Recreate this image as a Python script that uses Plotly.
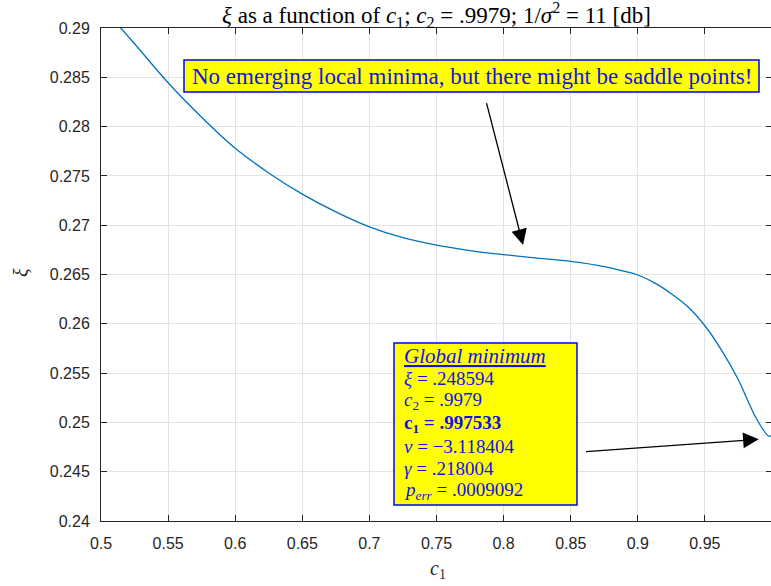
import plotly.graph_objects as go

# ---- data ----
c1_values = [0.5, 0.525, 0.55, 0.575, 0.6, 0.625, 0.65, 0.675, 0.7, 0.725, 0.75,
             0.775, 0.8, 0.825, 0.85, 0.875, 0.8875, 0.9, 0.9125, 0.925, 0.9375,
             0.95, 0.9625, 0.975, 0.9875, 0.997533, 1.0]
xi_values = [0.2923, 0.2884, 0.28445, 0.28095, 0.2778, 0.2753, 0.27315, 0.27135,
             0.26983, 0.26873, 0.26798, 0.26743, 0.26701, 0.26667, 0.26632, 0.2658,
             0.2654, 0.26495, 0.26415, 0.26305, 0.2617, 0.2598, 0.2573, 0.2543,
             0.2506, 0.248594, 0.2487]

x_tickvals = [0.5, 0.55, 0.6, 0.65, 0.7, 0.75, 0.8, 0.85, 0.9, 0.95, 1.0]
x_ticktext = ["0.5", "0.55", "0.6", "0.65", "0.7", "0.75", "0.8", "0.85", "0.9", "0.95", "1"]
y_tickvals = [0.24, 0.245, 0.25, 0.255, 0.26, 0.265, 0.27, 0.275, 0.28, 0.285, 0.29]
y_ticktext = ["0.24", "0.245", "0.25", "0.255", "0.26", "0.265", "0.27", "0.275", "0.28", "0.285", "0.29"]

title_text = ("<i>ξ</i> as a function of <i>c</i><sub>1</sub>; <i>c</i><sub>2</sub> = .9979; "
              "1/<i>σ</i><sup>2</sup> = 11 [db]")
note_text = "No emerging local minima, but there might be saddle points!"
minimum_lines = [
    "<i><u>Global minimum</u></i>",
    "<i>ξ</i> = .248594",
    "<i>c</i><sub>2</sub> = .9979",
    "<b>c<sub>1</sub> = .997533</b>",
    "<i>ν</i> = −3.118404",
    "<i>γ</i> = .218004",
    "<i>p<sub>err</sub></i> = .0009092",
]
# arrow targets (data) and tails (data)
arrow1_tip = (0.8145, 0.2680)
arrow1_tail = (0.787, 0.28253)
arrow2_tip = (0.9901, 0.24829)
arrow2_tail = (0.8603, 0.24703)

# ---- geometry (page pixels; body margin removed by post_script) ----
W, H = 772, 586
ML, MT, MR, MB = 101, 28, 0, 65
PW = W - ML - MR
PH = H - MT - MB


def px(p):  # page x pixel -> paper x
    return (p - ML) / PW


def py(p):  # page y pixel -> paper y
    return (H - MB - p) / PH


AX = "#262626"
SERIF = "Liberation Serif"
SANS = "Liberation Sans"
BLUE_TXT = "#1212e6"

fig = go.Figure()
fig.add_trace(go.Scatter(x=c1_values, y=xi_values, mode="lines",
                         line=dict(color="#0072BD", width=1.3, shape="spline", smoothing=0.8),
                         hoverinfo="skip", showlegend=False))

axis_common = dict(showline=True, linecolor=AX, linewidth=1, mirror="ticks",
                   ticks="inside", ticklen=6, tickcolor=AX, tickwidth=1,
                   showgrid=True, gridcolor="#e3e3e3", gridwidth=1, zeroline=False,
                   tickfont=dict(family=SANS, size=16, color=AX))

fig.update_layout(
    width=W, height=H,
    margin=dict(l=ML, r=MR, t=MT, b=MB),
    paper_bgcolor="white", plot_bgcolor="white",
    title=dict(text=title_text, x=0.5, xref="paper", y=1 - 15 / H, yref="container",
               xanchor="center", yanchor="middle",
               font=dict(family=SERIF, size=23, color="black")),
    xaxis=dict(range=[0.5, 1.0], tickvals=x_tickvals, ticktext=x_ticktext,
               ticklabelstandoff=8, **axis_common),
    yaxis=dict(range=[0.24, 0.29], tickvals=y_tickvals, ticktext=y_ticktext,
               ticklabelstandoff=7, **axis_common),
    showlegend=False,
    hovermode=False,
)

shapes = [
    dict(type="rect", xref="paper", yref="paper", x0=px(184), x1=px(759), y0=py(92), y1=py(60),
         fillcolor="#ffff00", line=dict(color="#0000ff", width=1.5), layer="above"),
    dict(type="rect", xref="paper", yref="paper", x0=px(394), x1=px(577), y0=py(505), y1=py(343),
         fillcolor="#ffff00", line=dict(color="#0000ff", width=1.5), layer="above"),
]
fig.update_layout(shapes=shapes)

annotations = []
# axis labels
annotations.append(dict(text="<i>c</i><sub>1</sub>", xref="paper", yref="paper",
                        x=px(438), y=py(569), xanchor="center", yanchor="middle",
                        showarrow=False, font=dict(family=SERIF, size=20, color=AX)))
annotations.append(dict(text="<i>ξ</i>", xref="paper", yref="paper",
                        x=px(21), y=py(273), xanchor="center", yanchor="middle",
                        textangle=-90, showarrow=False, font=dict(family=SERIF, size=20, color=AX)))
# arrows
for tip, tail in [(arrow1_tip, arrow1_tail), (arrow2_tip, arrow2_tail)]:
    annotations.append(dict(text="", x=tip[0], y=tip[1], xref="x", yref="y",
                            ax=tail[0], ay=tail[1], axref="x", ayref="y",
                            showarrow=True, arrowhead=2, arrowsize=2.4, arrowwidth=1.3,
                            arrowcolor="black"))
# top note text
annotations.append(dict(text=note_text, xref="paper", yref="paper",
                        x=px(471.5), y=py(76.5), xanchor="center", yanchor="middle",
                        showarrow=False, font=dict(family=SERIF, size=23, color=BLUE_TXT)))
# global minimum lines
for i, line in enumerate(minimum_lines):
    annotations.append(dict(text=line, xref="paper", yref="paper",
                            x=px(402), y=py(356 + 22.5 * i), xanchor="left", yanchor="middle",
                            align="left", showarrow=False,
                            font=dict(family=SERIF, size=21 if i == 0 else 19, color=BLUE_TXT)))
fig.update_layout(annotations=annotations)

fig.write_html(
    "out.html",
    config={"displayModeBar": False},
    post_script=("document.body.style.margin='0';"
                 "document.body.style.overflow='hidden';"
                 "document.documentElement.style.overflow='hidden';"),
)
